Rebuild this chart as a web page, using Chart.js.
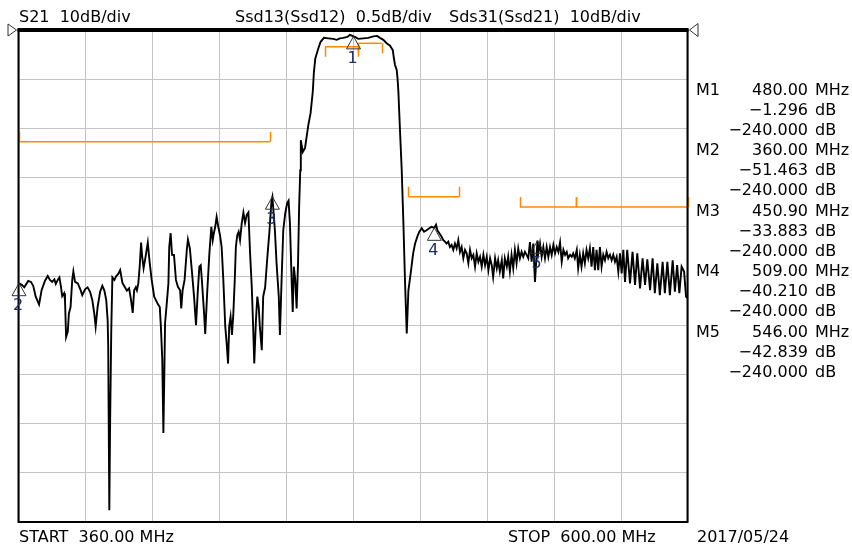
<!DOCTYPE html>
<html>
<head>
<meta charset="utf-8">
<title>S21 sweep</title>
<script src="https://cdn.jsdelivr.net/npm/chart.js@4.4.0/dist/chart.umd.min.js"></script>
<style>
  html, body { margin: 0; padding: 0; background: #fff; }
  #wrap { position: relative; width: 852px; height: 548px; overflow: hidden; }
  #wrap canvas { position: absolute; left: 0; top: 0; }
  .lbl { position: absolute; font: 16px "DejaVu Sans", sans-serif; line-height: 20px; white-space: pre; color: #000; }
  .mk { color: #1b2d6b; width: 20px; text-align: center; }
</style>
</head>
<body>
<div id="wrap"><canvas id="c" width="852" height="548"></canvas></div>
<script>
// Sweep settings
const xStart = 360, xStop = 600, xStep = 24;      // MHz
const yTop = 0, yBottom = -100, yStep = 10;        // dB, 10 dB/div
const refLevel = 0;

// S21 trace (MHz / dB)
const freq = [
  360.0, 361.0, 361.9, 363.3, 364.3, 365.1, 366.0, 367.2, 368.1, 369.3,
  370.3, 371.1, 371.9, 372.7, 373.2, 373.9, 374.5, 375.0, 375.5, 376.2,
  376.5, 376.9, 377.5, 377.9, 378.5, 379.1, 379.5, 380.1, 381.1, 382.0,
  382.7, 383.7, 384.6, 385.5, 386.3, 387.0, 387.5, 388.2, 389.1, 389.9,
  390.6, 391.3, 391.8, 392.0, 392.4, 392.7, 393.1, 393.5, 394.2, 394.9,
  395.6, 396.3, 397.1, 398.0, 398.7, 399.5, 400.2, 400.8, 401.3, 401.9,
  402.3, 402.8, 403.3, 403.8, 404.2, 404.7, 405.4, 406.2, 406.9, 407.6,
  408.5, 409.8, 410.5, 410.9, 411.4, 411.8, 412.1, 412.4, 413.0, 413.6,
  413.9, 414.4, 414.9, 415.6, 416.3, 417.0, 417.8, 418.2, 418.7, 419.4,
  420.2, 420.6, 421.3, 422.1, 422.8, 423.5, 424.1, 424.7, 425.2, 425.6,
  426.4, 426.8, 427.5, 428.3, 429.0, 429.5, 429.9, 430.4, 430.9, 431.5,
  432.1, 432.7, 433.3, 434.0, 434.5, 435.0, 435.4, 435.9, 436.4, 436.9,
  437.4, 437.8, 438.3, 438.8, 439.3, 439.9, 440.5, 441.1, 441.7, 442.3,
  442.9, 443.5, 444.0, 444.4, 445.0, 445.5, 446.0, 446.4, 447.1, 447.6,
  448.3, 449.1, 449.8, 450.6, 450.9, 451.8, 452.4, 453.2, 453.6, 454.2,
  454.8, 455.5, 456.2, 456.7, 457.2, 457.8, 458.2, 458.6, 459.1, 459.6,
  460.1, 460.5, 460.9, 461.1, 461.8, 462.6, 463.8, 464.6, 465.4, 465.8,
  466.3, 467.4, 468.2, 469.4, 471.0, 472.7, 474.0, 475.1, 476.3, 477.8,
  478.7, 480.0, 480.5, 481.7, 483.5, 485.3, 487.1, 488.5, 489.5, 490.7,
  491.9, 493.1, 494.1, 494.5, 494.9, 495.5, 495.8, 496.1, 496.4, 496.7,
  497.3, 497.9, 498.5, 499.1, 499.7, 500.5, 501.4, 502.1, 502.9, 503.6,
  504.5, 505.3, 506.2, 507.2, 508.0, 509.0, 509.6, 510.1, 510.8, 511.6,
  512.2, 512.8, 513.4, 514.0, 514.6, 515.2, 515.8, 516.4, 517.0, 517.6,
  518.2, 518.8, 519.4, 520.0, 520.6, 521.2, 521.8, 522.4, 523.0, 523.6,
  524.2, 524.8, 525.4, 526.0, 526.6, 527.2, 527.8, 528.4, 529.0, 529.6,
  530.1, 530.8, 531.4, 531.9, 532.5, 533.2, 533.7, 534.3, 535.0, 535.5,
  536.1, 536.7, 537.3, 537.9, 538.5, 539.1, 539.7, 540.3, 540.9, 541.5,
  542.1, 542.7, 543.3, 543.9, 544.5, 545.1, 546.0, 546.3, 546.9, 547.5,
  548.1, 548.7, 549.3, 549.9, 550.5, 551.1, 551.7, 552.3, 552.9, 553.5,
  554.1, 554.7, 555.3, 555.9, 556.5, 557.0, 557.7, 558.3, 558.8, 559.4,
  560.1, 560.6, 561.2, 561.8, 562.4, 563.0, 563.6, 564.2, 564.8, 565.4,
  566.0, 566.6, 567.2, 567.8, 568.4, 569.0, 569.6, 570.2, 570.8, 571.4,
  572.0, 572.6, 573.2, 573.8, 574.4, 575.0, 575.6, 576.2, 576.8, 577.4,
  578.2, 579.2, 580.1, 581.0, 581.8, 582.8, 583.7, 584.6, 585.4, 586.4,
  587.3, 588.1, 589.0, 589.9, 590.9, 591.7, 592.6, 593.5, 594.5, 595.3,
  596.1, 596.9, 597.7, 598.6, 599.3, 600.0
];
const s21 = [
  -51.5, -51.8, -52.3, -51.0, -51.2, -52.0, -54.2, -55.8, -52.9, -51.0,
  -50.0, -50.8, -51.2, -50.7, -51.6, -50.8, -50.3, -52.0, -54.1, -53.5,
  -54.9, -62.4, -61.3, -57.6, -56.3, -50.8, -49.1, -51.2, -51.5, -52.7,
  -53.9, -52.7, -52.3, -53.2, -54.9, -57.6, -60.3, -56.3, -53.2, -52.0,
  -52.9, -54.9, -59.0, -64.0, -97.6, -79.3, -61.0, -50.3, -50.8, -50.0,
  -49.6, -48.8, -51.4, -52.3, -53.0, -52.5, -54.9, -57.5, -52.9, -52.3,
  -52.9, -51.5, -48.1, -43.2, -46.1, -48.4, -46.1, -43.2, -47.4, -50.8,
  -54.2, -55.7, -56.3, -60.3, -67.1, -81.9, -71.2, -59.6, -55.6, -51.5,
  -44.1, -41.3, -45.7, -45.7, -50.8, -52.2, -52.9, -56.6, -52.9, -50.8,
  -44.7, -42.6, -44.4, -49.5, -54.2, -60.0, -53.5, -48.1, -47.8, -50.8,
  -57.6, -61.8, -53.5, -45.4, -40.0, -42.7, -41.3, -40.0, -38.0, -40.0,
  -41.7, -44.1, -50.8, -60.3, -63.7, -67.8, -60.3, -58.3, -62.0, -57.6,
  -50.8, -44.1, -41.7, -41.0, -42.7, -39.3, -37.1, -39.2, -37.6, -37.1,
  -45.4, -52.2, -60.3, -67.8, -59.0, -54.2, -56.3, -60.3, -65.1, -54.2,
  -52.3, -46.1, -41.3, -34.6, -33.9, -40.7, -47.4, -54.2, -62.0, -50.8,
  -40.7, -37.3, -35.2, -34.7, -39.3, -50.8, -57.3, -48.1, -50.8, -56.6,
  -47.4, -35.9, -28.5, -22.4, -24.8, -24.0, -19.3, -16.9, -12.5, -8.5,
  -5.8, -3.7, -2.4, -1.6, -1.7, -1.8, -2.0, -1.7, -1.6, -1.4,
  -1.0, -1.3, -1.4, -1.8, -1.7, -1.6, -1.3, -1.2, -1.6, -2.0,
  -2.7, -3.2, -4.1, -5.8, -7.1, -8.1, -9.8, -12.5, -16.6, -20.7,
  -28.5, -39.3, -51.5, -61.7, -52.9, -49.5, -45.4, -43.4, -42.0, -41.0,
  -40.3, -41.0, -40.7, -40.3, -40.0, -40.2, -39.6, -40.7, -41.3, -42.0,
  -42.7, -43.0, -43.4, -43.0, -44.1, -43.7, -44.7, -43.4, -44.4, -42.7,
  -45.1, -44.1, -46.4, -44.7, -45.4, -47.4, -44.7, -46.4, -45.7, -48.1,
  -45.4, -47.1, -46.1, -48.1, -45.7, -47.8, -46.1, -48.8, -46.4, -47.8,
  -50.2, -46.4, -48.4, -46.8, -49.1, -46.8, -50.5, -46.4, -48.1, -46.1,
  -49.1, -45.7, -48.4, -44.7, -47.4, -44.4, -46.4, -45.1, -46.1, -45.1,
  -45.7, -46.4, -43.1, -47.1, -43.4, -51.2, -42.8, -45.4, -43.4, -46.1,
  -44.1, -46.4, -44.1, -46.1, -44.1, -45.7, -43.7, -45.4, -44.1, -45.1,
  -43.2, -47.1, -44.7, -45.7, -45.1, -46.4, -45.7, -46.1, -45.4, -46.4,
  -44.7, -48.4, -45.7, -48.1, -45.4, -47.4, -44.7, -46.4, -44.4, -48.1,
  -44.1, -48.8, -44.7, -48.8, -44.1, -48.1, -45.7, -46.8, -45.1, -46.4,
  -45.7, -46.8, -45.7, -47.1, -46.1, -49.1, -45.4, -49.5, -44.7, -51.2,
  -44.7, -51.5, -45.1, -51.8, -45.4, -52.5, -46.4, -51.8, -46.6, -52.9,
  -46.4, -53.5, -47.4, -53.9, -47.1, -53.5, -47.1, -53.9, -46.8, -53.2,
  -47.8, -53.5, -48.1, -49.1, -54.2, -54.5
];

// Markers M1..M5
const markerFreq = [480.00, 360.00, 450.90, 509.00, 546.00];
const markerDb   = [-1.296, -51.463, -33.883, -40.210, -42.839];
const markerDb2  = [-240, -240, -240, -240, -240];

// Limit line segments
const limitStart = [360.0, 469.8, 481.7, 499.7, 539.7, 559.8];
const limitStop  = [450.0, 481.7, 490.1, 518.0, 559.8, 600.0];
const limitDb    = [-22.7, -3.4, -2.7, -33.9, -36.0, -36.0];
const limitKind  = ['max', 'min', 'min', 'max', 'max', 'max'];

const headers = ['S21  10dB/div', 'Ssd13(Ssd12)  0.5dB/div', 'Sds31(Ssd21)  10dB/div'];
const sweepDate = '2017/05/24';

const LIMIT_COLOR = '#ff8a00';
const GRID_COLOR = '#c4c4c4';
const MARK_COLOR = '#333';

const minus = s => s.replace('-', '\u2212');

// ticks of the limit lines, frame, reference arrows and marker triangles
const analyzerOverlay = {
  id: 'analyzerOverlay',
  afterDatasetsDraw(chart) {
    const { ctx, scales: { x, y } } = chart;
    ctx.save();
    ctx.strokeStyle = LIMIT_COLOR;
    ctx.lineWidth = 1.5;
    limitDb.forEach((db, i) => {
      const py = y.getPixelForValue(db);
      const dir = limitKind[i] === 'max' ? -1 : 1;
      [limitStart[i], limitStop[i]].forEach(f => {
        const px = Math.round(x.getPixelForValue(f)) + 0.5;
        ctx.beginPath();
        ctx.moveTo(px, py);
        ctx.lineTo(px, py + dir * 10);
        ctx.stroke();
      });
    });
    ctx.restore();
  },
  afterDraw(chart) {
    const { ctx, chartArea: a, scales: { x, y } } = chart;
    ctx.save();
    // frame, heavier on top
    ctx.strokeStyle = '#000';
    ctx.lineWidth = 2;
    ctx.strokeRect(a.left - 0.5, a.top, a.right - a.left, a.bottom - a.top);
    ctx.lineWidth = 4;
    ctx.beginPath();
    ctx.moveTo(a.left - 1.5, a.top);
    ctx.lineTo(a.right + 0.5, a.top);
    ctx.stroke();

    // reference position arrows
    const ry = y.getPixelForValue(refLevel);
    ctx.strokeStyle = MARK_COLOR;
    ctx.lineWidth = 1;
    ctx.beginPath();
    ctx.moveTo(a.left - 11, ry - 6);
    ctx.lineTo(a.left - 2.5, ry);
    ctx.lineTo(a.left - 11, ry + 6);
    ctx.closePath();
    ctx.stroke();
    ctx.beginPath();
    ctx.moveTo(a.right + 10, ry - 6.5);
    ctx.lineTo(a.right + 1.5, ry);
    ctx.lineTo(a.right + 10, ry + 6.5);
    ctx.closePath();
    ctx.stroke();

    // marker triangles, tip on the trace value
    markerFreq.forEach((f, i) => {
      const px = x.getPixelForValue(f);
      const py = y.getPixelForValue(markerDb[i]);
      ctx.beginPath();
      ctx.moveTo(px, py);
      ctx.lineTo(px + 7, py + 12.5);
      ctx.lineTo(px - 7, py + 12.5);
      ctx.closePath();
      ctx.stroke();
    });
    ctx.restore();
  }
};

const chart = new Chart(document.getElementById('c'), {
  type: 'line',
  data: {
    datasets: [
      {
        data: freq.map((f, i) => ({ x: f, y: s21[i] })),
        borderColor: '#000',
        borderWidth: 1.9,
        pointRadius: 0,
        tension: 0,
        order: 0
      },
      ...limitDb.map((db, i) => ({
        data: [{ x: limitStart[i], y: db }, { x: limitStop[i], y: db }],
        borderColor: LIMIT_COLOR,
        borderWidth: 1.5,
        pointRadius: 0,
        order: 1
      }))
    ]
  },
  options: {
    responsive: false,
    animation: false,
    events: [],
    layout: { padding: { left: 19, top: 30, right: 164, bottom: 26 } },
    plugins: { legend: { display: false }, tooltip: { enabled: false } },
    scales: {
      x: {
        type: 'linear', min: xStart, max: xStop,
        ticks: { display: false, stepSize: xStep },
        grid: { color: GRID_COLOR, lineWidth: 1, drawTicks: false },
        border: { display: false }
      },
      y: {
        type: 'linear', min: yBottom, max: yTop,
        ticks: { display: false, stepSize: yStep },
        grid: { color: GRID_COLOR, lineWidth: 1, drawTicks: false },
        border: { display: false }
      }
    }
  },
  plugins: [analyzerOverlay]
});

// text overlays
const wrap = document.getElementById('wrap');
function addText(text, left, top, cls, right) {
  const d = document.createElement('div');
  d.className = 'lbl' + (cls ? ' ' + cls : '');
  d.textContent = text;
  d.style.top = top + 'px';
  if (right != null) d.style.right = right + 'px';
  else d.style.left = left + 'px';
  wrap.appendChild(d);
}

[19, 235, 449].forEach((left, i) => addText(headers[i], left, 7));

addText('START  ' + xStart.toFixed(2) + ' MHz', 19, 527);
addText('STOP  ' + xStop.toFixed(2) + ' MHz', 508, 527);
addText(sweepDate, 697, 527);

// marker readout table
markerFreq.forEach((f, i) => {
  const rows = [
    [f.toFixed(2), 'MHz'],
    [minus(markerDb[i].toFixed(3)), 'dB'],
    [minus(markerDb2[i].toFixed(3)), 'dB']
  ];
  rows.forEach((r, j) => {
    const top = 79.5 + (i * 3 + j) * 20.18;
    if (j === 0) addText('M' + (i + 1), 696, top);
    addText(r[0], 0, top, null, 44);
    addText(r[1], 815, top);
  });
});

// marker numbers under the triangles
const sx = chart.scales.x, sy = chart.scales.y;
markerFreq.forEach((f, i) => {
  const px = sx.getPixelForValue(f);
  const py = sy.getPixelForValue(markerDb[i]);
  addText(String(i + 1), px - 11, py + 12, 'mk');
});
</script>
</body>
</html>
